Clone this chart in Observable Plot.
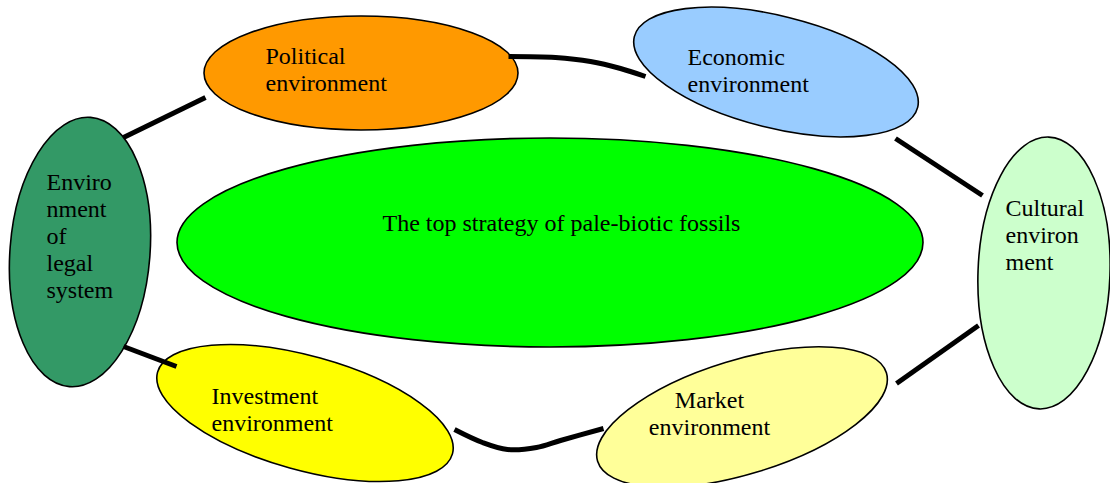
<!DOCTYPE html>
<html>
<head>
<meta charset="utf-8">
<script src="https://cdn.jsdelivr.net/npm/d3@7"></script>
<script src="https://cdn.jsdelivr.net/npm/@observablehq/plot@0.6"></script>
<style>
  html, body { margin: 0; padding: 0; background: #fff; }
  #chart svg { display: block; }
</style>
</head>
<body>
<div id="chart"></div>
<script>
// Nodes of the diagram
const nodeLabels = [
  "Political\nenvironment",
  "Economic\nenvironment",
  "Cultural\nenviron\nment",
  "Market\nenvironment",
  "Investment\nenvironment",
  "Enviro\nnment\nof\nlegal\nsystem",
  "The top strategy of pale-biotic fossils"
];
const nodeCx = [361, 776, 1044, 742, 305, 80, 550];
const nodeCy = [73, 72, 273, 417, 413, 252, 242.5];
const nodeRx = [157, 146, 66, 151, 153, 70, 373];
const nodeRy = [57, 56, 136, 57, 57, 135, 104.5];
const nodeAngle = [0, 14, 2, -17, 15.5, 4.5, 0];
const nodeFill = ["#FF9900", "#99CCFF", "#CCFFCC", "#FFFF99", "#FFFF00", "#339966", "#00FF00"];

// Label anchor positions
const labelX = [265, 687, 1005, 709, 211, 46, 561];
const labelY = [68.5, 69.5, 233.5, 412, 408.5, 235, 222];
const labelAnchor = ["start", "start", "start", "middle", "start", "start", "middle"];

// Connectors between nodes (polyline points)
const connectorId = [
  "legal-political", "legal-political",
  "political-economic", "political-economic", "political-economic", "political-economic", "political-economic",
  "economic-cultural", "economic-cultural",
  "cultural-market", "cultural-market",
  "market-investment", "market-investment", "market-investment", "market-investment", "market-investment", "market-investment",
  "investment-legal", "investment-legal"
];
const connectorX = [
  123, 205,
  508, 555, 590, 620, 645,
  895, 982,
  978, 896,
  603, 560, 536, 507, 482, 454,
  176, 123
];
const connectorY = [
  137, 97,
  56, 57, 61, 68, 76,
  138, 195,
  325, 383,
  428, 440, 447, 449, 442, 429,
  366, 346
];

const nodes = nodeLabels.map((label, i) => ({
  label, cx: nodeCx[i], cy: nodeCy[i], rx: nodeRx[i], ry: nodeRy[i],
  angle: nodeAngle[i], fill: nodeFill[i],
  lx: labelX[i], ly: labelY[i], anchor: labelAnchor[i]
}));
const connectors = connectorId.map((id, i) => ({id, x: connectorX[i], y: connectorY[i]}));

// Ellipse mark drawn through Plot's scales
function ellipses(data) {
  return (index, scales) => {
    const g = d3.create("svg:g");
    const x = scales.x, y = scales.y;
    for (const d of data) {
      const px = x(d.cx), py = y(d.cy);
      const prx = Math.abs(x(d.cx + d.rx) - px);
      const pry = Math.abs(y(d.cy + d.ry) - py);
      g.append("ellipse")
        .attr("cx", px).attr("cy", py)
        .attr("rx", prx).attr("ry", pry)
        .attr("transform", `rotate(${d.angle} ${px} ${py})`)
        .attr("fill", d.fill)
        .attr("stroke", "#000")
        .attr("stroke-width", 1.6);
    }
    return g.node();
  };
}

const textFont = "'Liberation Serif', 'Times New Roman', serif";
const startNodes = nodes.filter(d => d.anchor === "start");
const middleNodes = nodes.filter(d => d.anchor === "middle");

const chart = Plot.plot({
  width: 1110,
  height: 483,
  margin: 0,
  style: {background: "#fff", overflow: "hidden"},
  x: {domain: [0, 1110], range: [0, 1110], axis: null},
  y: {domain: [0, 483], range: [0, 483], axis: null},
  marks: [
    ellipses(nodes),
    Plot.line(connectors, {
      x: "x", y: "y", z: "id",
      curve: "catmull-rom",
      stroke: "#000", strokeWidth: 5, strokeLinecap: "butt", strokeLinejoin: "round"
    }),
    Plot.text(startNodes, {
      x: "lx", y: "ly", text: "label",
      textAnchor: "start", lineAnchor: "middle", lineHeight: 1.125,
      fontSize: 24, fontFamily: textFont, fill: "#000"
    }),
    Plot.text(middleNodes, {
      x: "lx", y: "ly", text: "label",
      textAnchor: "middle", lineAnchor: "middle", lineHeight: 1.125,
      fontSize: 24, fontFamily: textFont, fill: "#000"
    })
  ]
});
document.getElementById("chart").appendChild(chart);
</script>
</body>
</html>
